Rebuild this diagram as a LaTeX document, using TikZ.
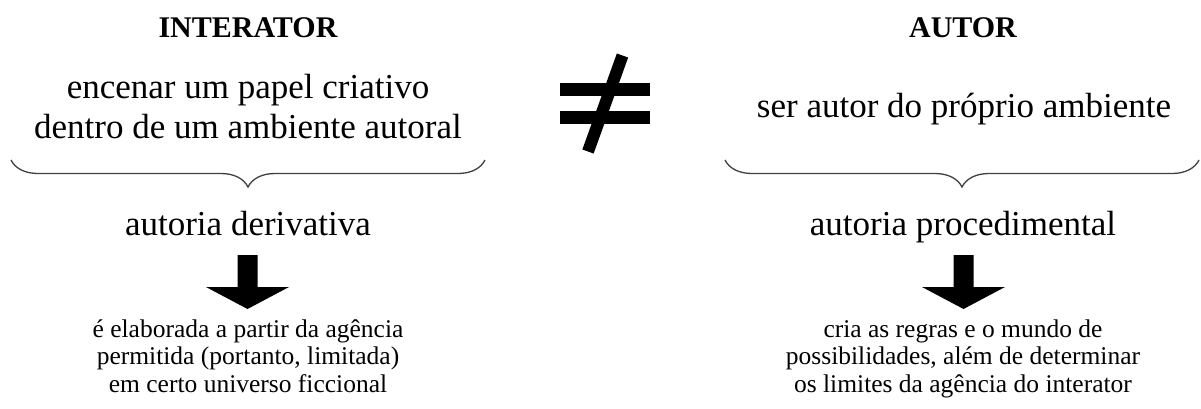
\documentclass[tikz,border=0pt]{standalone}
\usepackage{fontspec}
\setmainfont{Liberation Serif}
\usetikzlibrary{decorations.pathreplacing}
\begin{document}
\begin{tikzpicture}[x=1pt,y=-1pt,
  title/.style={font=\fontsize{30}{34}\selectfont\bfseries, anchor=base, inner sep=0pt},
  big/.style={font=\fontsize{35}{40}\selectfont, anchor=base, inner sep=0pt, align=center},
  small/.style={font=\fontsize{25.5}{27.5}\selectfont, anchor=base, inner sep=0pt, align=center},
  bracebar/.style={draw=black!75, line width=1.3pt, decorate, decoration={brace, amplitude=27pt, mirror}},
  neqbar/.style={line width=13pt, line cap=butt}]
\useasboundingbox[fill=white] (0,0) rectangle (1201,408);
% titles
\node[title] (ti) at (248,37) {INTERATOR};
\node[title] (ta) at (963,37) {AUTOR};
% descriptions (base anchor = baseline of last line)
\node[big] (di) at (248,138) {encenar um papel criativo\\dentro de um ambiente autoral};
\node[big] (da) at (964,117) {ser autor do próprio ambiente};
% braces
\coordinate (bl1) at (11,160);
\coordinate (bl2) at (485,160);
\coordinate (br1) at (725,160);
\coordinate (br2) at (1199,160);
\draw[bracebar] (bl1) -- (bl2);
\draw[bracebar] (br1) -- (br2);
% authorship
\node[big] (ai) at (248,235) {autoria derivativa};
\node[big] (aa) at (963,235) {autoria procedimental};
% block arrows
\coordinate (arrL) at (247.5,255);
\coordinate (arrR) at (963.5,255);
\foreach \c in {arrL,arrR}{
  \fill (\c) ++(-10,0) -- ++(20,0) -- ++(0,32) -- ++(31.5,0) -- ++(-41.5,22) -- ++(-41.5,-22) -- ++(31.5,0) -- cycle;
}
% results
\node[small] (ri) at (248,392) {é elaborada a partir da agência\\permitida (portanto, limitada)\\em certo universo ficcional};
\node[small] (ra) at (963,392) {cria as regras e o mundo de\\possibilidades, além de determinar\\os limites da agência do interator};
% not-equal sign
\draw[neqbar] (560,89.5) -- (650,89.5);
\draw[neqbar] (560,117) -- (650,117);
\draw[line width=12pt, line cap=butt] (622.5,55.5) -- (588,151.5);
\end{tikzpicture}
\end{document}
